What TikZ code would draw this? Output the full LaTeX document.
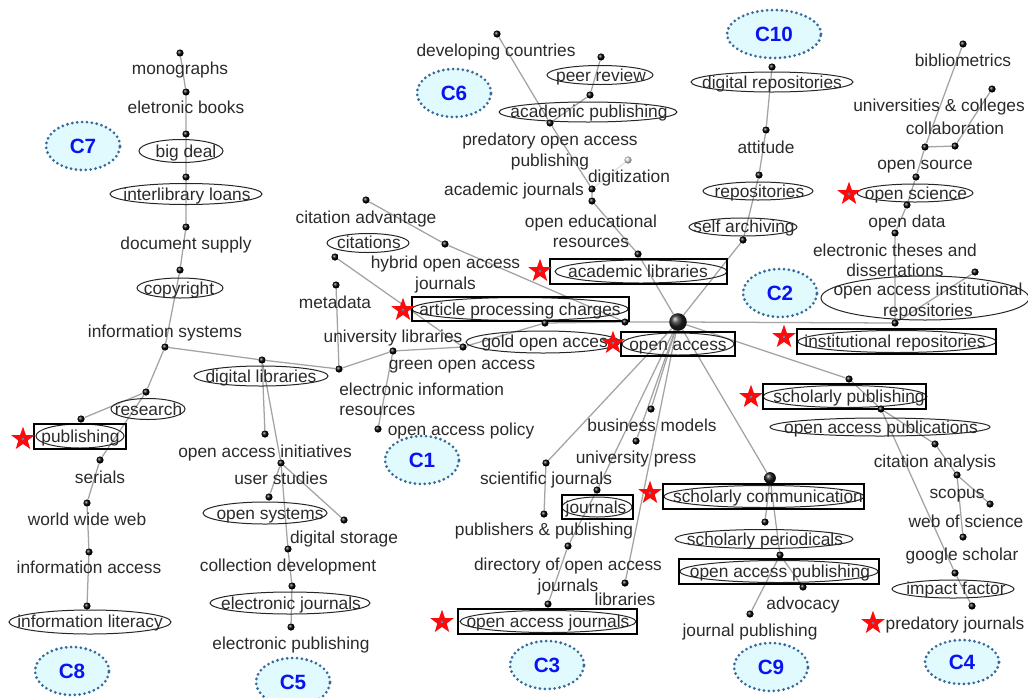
\documentclass[tikz,border=0pt]{standalone}
\usepackage{fontspec}
\setmainfont{Liberation Sans}
\usetikzlibrary{shapes.geometric}
\pgfdeclarelayer{edges}
\pgfsetlayers{edges,main}

\definecolor{txt}{HTML}{2A2A2A}
\definecolor{edgegray}{HTML}{A3A3A3}
\definecolor{cfill}{HTML}{E0FAFD}
\definecolor{cline}{HTML}{386A9A}
\definecolor{cblue}{HTML}{0A14F0}
\definecolor{starred}{HTML}{FF0A0A}
\definecolor{starcore}{HTML}{5A7FB0}

\tikzset{
  lbl/.style={text=txt, font=\fontsize{13}{15.5}\selectfont, inner sep=0pt,
              text height=11.5pt, text depth=1.5pt},
  lblm/.style={text=txt, font=\fontsize{13}{15.5}\selectfont, inner sep=0pt, align=center,
              yshift=-2.5pt},
  ringn/.style 2 args={ellipse, draw=black!85, line width=0.75pt, inner sep=0pt,
              minimum width=#1*1.5pt, minimum height=#2*1.5pt},
  boxn/.style 2 args={rectangle, draw=black, line width=0.9pt, inner sep=0pt,
              minimum width=#1*0.75pt, minimum height=#2*0.75pt},
  edge/.style={draw=edgegray, line width=0.95pt},
  dotn/.style={circle, inner sep=0pt, minimum size=5.4pt, shading=ball, ball color=black},
  hubn/.style={circle, inner sep=0pt, minimum size=13.2pt, shading=ball, ball color=black!85},
  bigdotn/.style={circle, inner sep=0pt, minimum size=8.8pt, shading=ball, ball color=black!90},
  clus/.style={ellipse, fill=cfill, draw=cline, line width=2.3pt,
              dash pattern=on 0pt off 3.7pt, line cap=round, inner sep=0pt,
              minimum width=55.5pt, minimum height=36pt, text=cblue,
              font=\fontsize{15.5}{18}\selectfont\bfseries},
  redstar/.style={star, star points=5, star point ratio=2.5, fill=starred, draw=none,
              inner sep=0pt, minimum size=18.5pt},
  corept/.style={circle, fill=starcore, inner sep=0pt, minimum size=2.4pt},
}

\begin{document}
\begin{tikzpicture}[x=0.75pt,y=-0.75pt]
\useasboundingbox (0,0) rectangle (1028,697);

% ---------- cluster tags ----------
\node[clus] (c7) at (83,146) {C7};
\node[clus] (c6) at (454,93) {C6};
\node[clus, minimum width=70.5pt] (c10) at (774,34) {C10};
\node[clus] (c2) at (780,293) {C2};
\node[clus] (c1) at (422,460) {C1};
\node[clus] (c8) at (72,671) {C8};
\node[clus] (c5) at (293,682) {C5};
\node[clus] (c3) at (547,665) {C3};
\node[clus] (c9) at (771,667) {C9};
\node[clus, minimum height=33pt] (c4) at (962,662) {C4};

% ---------- frames around highlighted terms ----------
\node[ringn={42}{11.5}] (r-bigdeal) at (181,151) {};
\node[ringn={76}{10.5}] (r-ill) at (186,194) {};
\node[ringn={43}{10}] (r-copy) at (180,288) {};
\node[ringn={37}{10.5}] (r-research) at (148,409) {};
\node[ringn={44}{12}] (r-publ) at (80,436) {};
\node[boxn={92}{25}] (b-publ) at (80,436.5) {};
\node[ringn={81}{12}] (r-infolit) at (90,622) {};
\node[ringn={67}{10}] (r-diglib) at (261,376) {};
\node[ringn={62}{11}] (r-opensys) at (265,513) {};
\node[ringn={80}{11}] (r-ejour) at (290,603) {};
\node[ringn={41}{9.5}] (r-cite) at (368,243) {};
\node[ringn={108}{11.5}] (r-apc) at (520,309) {};
\node[boxn={217}{24}] (b-apc) at (520.5,309) {};
\node[ringn={77}{11}] (r-gold) at (543,342) {};
\node[ringn={56}{11}] (r-oa) at (678,344) {};
\node[boxn={114}{24}] (b-oa) at (678,344) {};
\node[ringn={53}{9.5}] (r-peer) at (600,75) {};
\node[ringn={89}{10}] (r-acpub) at (588,112) {};
\node[ringn={86}{11.5}] (r-aclib) at (641,271.5) {};
\node[boxn={177}{25}] (b-aclib) at (638.5,271.5) {};
\node[ringn={81}{10}] (r-digrep) at (772,82) {};
\node[ringn={55}{9}] (r-repos) at (758,191) {};
\node[ringn={54}{9}] (r-selfarch) at (743,227) {};
\node[ringn={58}{9}] (r-opensci) at (915,193) {};
\node[ringn={104}{22}] (r-oair) at (925,298) {};
\node[ringn={99}{11}] (r-instrep) at (897,341.5) {};
\node[boxn={199}{25}] (b-instrep) at (896.5,341.5) {};
\node[ringn={82}{11}] (r-scholpub) at (845,396.5) {};
\node[boxn={163}{25}] (b-scholpub) at (844.5,396.5) {};
\node[ringn={110}{9}] (r-oapubs) at (880,427) {};
\node[ringn={61}{9}] (r-impact) at (953,589) {};
\node[ringn={100}{11}] (r-scholcom) at (764,496.5) {};
\node[boxn={201}{25}] (b-scholcom) at (763.5,496.5) {};
\node[ringn={89}{9.5}] (r-scholper) at (764,539) {};
\node[ringn={99}{11}] (r-oapubl) at (779,571.5) {};
\node[boxn={200}{25}] (b-oapubl) at (779,571.5) {};
\node[ringn={35}{10}] (r-journals) at (597,507) {};
\node[boxn={71}{24}] (b-journals) at (597.5,507) {};
\node[ringn={88}{11}] (r-oaj) at (548,621.5) {};
\node[boxn={179}{25}] (b-oaj) at (547.5,621.5) {};

% ---------- network vertices ----------
% C7 / C8
\node[dotn] (mono) at (180,53) {};
\node[dotn] (ebook) at (186,92) {};
\node[dotn] (bigdeal) at (186,134) {};
\node[dotn] (ill) at (186,177) {};
\node[dotn] (docsup) at (186,227) {};
\node[dotn] (copy) at (180,270) {};
\node[dotn] (infosys) at (165,347) {};
\node[dotn] (research) at (146,392) {};
\node[dotn] (publ) at (81,419) {};
\node[dotn] (serials) at (100,460) {};
\node[dotn] (www) at (87,503) {};
\node[dotn] (infoacc) at (89,552) {};
\node[dotn] (infolit) at (87,606) {};
% C5
\node[dotn] (diglib) at (262,360) {};
\node[dotn] (oai) at (265,434) {};
\node[dotn] (userst) at (281,463) {};
\node[dotn] (opensys) at (269,497) {};
\node[dotn] (digstor) at (344,520) {};
\node[dotn] (colldev) at (288,549) {};
\node[dotn] (ejour) at (292,586) {};
\node[dotn] (epub) at (291,627) {};
% C1
\node[dotn] (eir) at (339,369) {};
\node[dotn] (meta) at (336,285) {};
\node[dotn] (green) at (393,351) {};
\node[dotn] (oapol) at (378,429) {};
\node[dotn] (unilib) at (463,347) {};
\node[dotn] (cite) at (335,257) {};
\node[dotn] (gold) at (545,323) {};
\node[dotn] (apc) at (625,322) {};
\node[dotn] (citadv) at (366,200) {};
\node[dotn] (hybrid) at (445,244) {};
% hub
\node[hubn] (oa) at (678,322) {};
% C6
\node[dotn] (devc) at (497,34) {};
\node[dotn] (peer) at (601,57) {};
\node[dotn] (acpub) at (590,95) {};
\node[dotn] (predoa) at (550,123) {};
\node[dotn, ball color=black!12] (digit) at (628,160) {};
\node[dotn] (acjour) at (592,189) {};
\node[dotn] (oer) at (592,201) {};
\node[dotn] (aclib) at (638,254) {};
% C10
\node[dotn] (digrep) at (772,67) {};
\node[dotn] (attit) at (766,130) {};
\node[dotn] (repos) at (759,175) {};
\node[dotn] (selfarch) at (743,240) {};
% C2
\node[dotn] (biblio) at (963,44) {};
\node[dotn] (univ) at (992,89) {};
\node[dotn] (collab) at (955,146) {};
\node[dotn] (opensrc) at (925,147) {};
\node[dotn] (opensci) at (916,177) {};
\node[dotn] (opendata) at (907,205) {};
\node[dotn] (etd) at (895,233) {};
\node[dotn] (oair) at (975,272) {};
\node[dotn] (instrep) at (895,323) {};
% C4
\node[dotn] (scholpub) at (849,379) {};
\node[dotn] (oapubs) at (881,409) {};
\node[dotn] (citan) at (935,444) {};
\node[dotn] (scopus) at (957,475) {};
\node[dotn] (wos) at (990,504) {};
\node[dotn] (gscholar) at (963,537) {};
\node[dotn] (impact) at (955,573) {};
\node[dotn] (predj) at (972,606) {};
% C9
\node[bigdotn] (scholcom) at (770,478) {};
\node[dotn] (scholper) at (765,522) {};
\node[dotn] (oapubl) at (780,555) {};
\node[dotn] (advoc) at (803,587) {};
\node[dotn] (jpub) at (750,614) {};
% C3
\node[dotn] (scij) at (546,463) {};
\node[dotn] (busmod) at (651,409) {};
\node[dotn] (unipress) at (636,441) {};
\node[dotn] (journals) at (597,490) {};
\node[dotn] (pubpub) at (544,514) {};
\node[dotn] (doaj) at (568,546) {};
\node[dotn] (libs) at (625,583) {};
\node[dotn] (oaj) at (548,604) {};

% ---------- links ----------
\begin{pgfonlayer}{edges}
\draw[edge] (mono) -- (ebook) -- (bigdeal) -- (ill) -- (docsup) -- (copy) -- (infosys) -- (research) -- (publ);
\draw[edge] (research) -- (serials) -- (www) -- (infoacc) -- (infolit);
\draw[edge] (infosys) -- (diglib) -- (eir) -- (green) -- (unilib) -- (gold) -- (apc) -- (oa);
\draw[edge] (diglib) -- (oai);
\draw[edge] (diglib) -- (userst) -- (colldev) -- (ejour) -- (epub);
\draw[edge] (userst) -- (opensys);
\draw[edge] (userst) -- (digstor);
\draw[edge] (meta) -- (eir);
\draw[edge] (green) -- (oapol);
\draw[edge] (cite) -- (unilib);
\draw[edge] (citadv) -- (hybrid) -- (apc);
\draw[edge] (devc) -- (predoa) -- (acjour) -- (oer) -- (aclib) -- (oa);
\draw[edge] (peer) -- (acpub) -- (predoa);
\draw[edge, draw=edgegray!35] (digit) -- (acjour);
\draw[edge] (digrep) -- (attit) -- (repos) -- (selfarch) -- (oa);
\draw[edge] (biblio) -- (opensrc) -- (collab) -- (univ);
\draw[edge] (opensrc) -- (opensci) -- (opendata) -- (etd) -- (instrep) -- (oa);
\draw[edge] (oair) -- (instrep);
\draw[edge] (oa) -- (scholpub) -- (oapubs) -- (citan) -- (scopus) -- (wos);
\draw[edge] (scopus) -- (gscholar);
\draw[edge] (oapubs) -- (impact) -- (predj);
\draw[edge] (oa) -- (scholcom) -- (scholper);
\draw[edge] (scholcom) -- (oapubl) -- (advoc);
\draw[edge] (oapubl) -- (jpub);
\draw[edge] (oa) -- (scij) -- (pubpub);
\draw[edge] (oa) -- (busmod);
\draw[edge] (oa) -- (unipress);
\draw[edge] (oa) -- (journals) -- (doaj) -- (oaj);
\draw[edge] (oa) -- (libs);
\end{pgfonlayer}

% ---------- term labels ----------
\node[lbl] (t-mono) at (180,68) {monographs};
\node[lbl] (t-ebook) at (186,107) {eletronic books};
\node[lbl] (t-bigdeal) at (186,151) {big deal};
\node[lbl] (t-ill) at (187,194) {interlibrary loans};
\node[lbl] (t-docsup) at (186,243) {document supply};
\node[lbl] (t-copy) at (179,288) {copyright};
\node[lbl] (t-infosys) at (165,331) {information systems};
\node[lbl] (t-research) at (148.5,409) {research};
\node[lbl] (t-publ) at (80.5,436) {publishing};
\node[lbl] (t-serials) at (100,477) {serials};
\node[lbl] (t-www) at (87,519) {world wide web};
\node[lbl] (t-infoacc) at (89,567) {information access};
\node[lbl] (t-infolit) at (90,621) {information literacy};

\node[lbl] (t-diglib) at (261,376) {digital libraries};
\node[lbl] (t-oai) at (265,451) {open access initiatives};
\node[lbl] (t-userst) at (281,478) {user studies};
\node[lbl] (t-opensys) at (270,513) {open systems};
\node[lbl] (t-digstor) at (344,537) {digital storage};
\node[lbl] (t-colldev) at (288,565) {collection development};
\node[lbl] (t-ejour) at (291,603) {electronic journals};
\node[lbl] (t-epub) at (291,643) {electronic publishing};

\node[lbl] (t-meta) at (335,302) {metadata};
\node[lbl] (t-unilib) at (393,336) {university libraries};
\node[lblm, align=left, anchor=west] (t-eir) at (339,396) {electronic information\\resources};
\node[lbl] (t-green) at (462,363) {green open access};
\node[lbl] (t-oapol) at (461,429) {open access policy};
\node[lbl] (t-cite) at (369,242) {citations};
\node[lbl] (t-citadv) at (366,217) {citation advantage};
\node[lblm] (t-hybrid) at (445.5,271) {hybrid open access\\journals};
\node[lbl] (t-apc) at (520,309) {article processing charges};
\node[lbl] (t-gold) at (549,341) {gold open access};
\node[lbl] (t-oa) at (678,344) {open access};

\node[lbl] (t-devc) at (496,50) {developing countries};
\node[lbl] (t-peer) at (601,75) {peer review};
\node[lbl] (t-acpub) at (589,111) {academic publishing};
\node[lblm] (t-predoa) at (550,148) {predatory open access\\publishing};
\node[lbl] (t-digit) at (629,176) {digitization};
\node[lbl] (t-acjour) at (514,189) {academic journals};
\node[lblm] (t-oer) at (591,228) {open educational\\resources};
\node[lbl] (t-aclib) at (638,271) {academic libraries};

\node[lbl] (t-digrep) at (772,82) {digital repositories};
\node[lbl] (t-attit) at (766,147) {attitude};
\node[lbl] (t-repos) at (759.5,191) {repositories};
\node[lbl] (t-selfarch) at (744,226) {self archiving};

\node[lbl] (t-biblio) at (963,60) {bibliometrics};
\node[lbl] (t-univ) at (939,105) {universities \& colleges};
\node[lbl] (t-collab) at (955,128) {collaboration};
\node[lbl] (t-opensrc) at (925,163) {open source};
\node[lbl] (t-opensci) at (916,193) {open science};
\node[lbl] (t-opendata) at (907,221) {open data};
\node[lblm] (t-etd) at (895,257) {electronic theses and\\dissertations};
\node[lblm] (t-oair) at (928,298) {open access institutional\\repositories};
\node[lbl] (t-instrep) at (895,341) {institutional repositories};

\node[lbl] (t-scholpub) at (849,396) {scholarly publishing};
\node[lbl] (t-oapubs) at (881,427) {open access publications};
\node[lbl] (t-citan) at (935,461) {citation analysis};
\node[lbl] (t-scopus) at (957,492) {scopus};
\node[lbl] (t-wos) at (966,521) {web of science};
\node[lbl] (t-gscholar) at (962,554) {google scholar};
\node[lbl] (t-impact) at (956,588) {impact factor};
\node[lbl] (t-predj) at (955,623) {predatory journals};

\node[lbl] (t-scholcom) at (768,496) {scholarly communication};
\node[lbl] (t-scholper) at (765,539) {scholarly periodicals};
\node[lbl] (t-oapubl) at (780,571) {open access publishing};
\node[lbl] (t-advoc) at (803,603) {advocacy};
\node[lbl] (t-jpub) at (750,630) {journal publishing};

\node[lbl] (t-scij) at (546,478) {scientific journals};
\node[lbl] (t-busmod) at (652,425) {business models};
\node[lbl] (t-unipress) at (636,457) {university press};
\node[lbl] (t-journals) at (596,507) {journals};
\node[lbl] (t-pubpub) at (544,529) {publishers \& publishing};
\node[lblm] (t-doaj) at (568,573) {directory of open access\\journals};
\node[lbl] (t-libs) at (625,599) {libraries};
\node[lbl] (t-oaj) at (548,621) {open access journals};

% ---------- core-term stars ----------
\foreach \nm/\pos in {publ/{23,439}, apc/{403,310}, aclib/{540,271}, oa/{613,343},
                      instrep/{784,337}, opensci/{849,194}, scholpub/{751,397},
                      scholcom/{650,493}, oaj/{442,622}, predj/{873,623}} {
  \node[redstar] (star-\nm) at (\pos) {};
  \node[corept] (core-\nm) at (star-\nm.center) {};
}
\end{tikzpicture}
\end{document}
